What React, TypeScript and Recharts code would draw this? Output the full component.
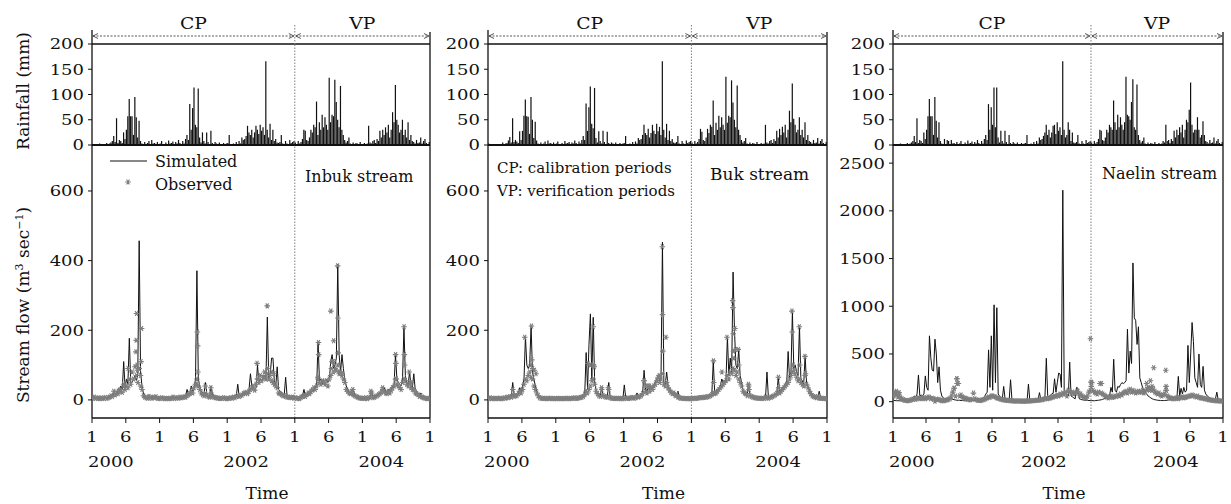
import { Bar, BarChart, ComposedChart, Line, ReferenceLine, Scatter, XAxis, YAxis } from "recharts";

const SERIF = "'DejaVu Serif', serif";
const INK = "#111";
const GREY = "#7e7e7e";

// time axis: months since Jan 2000, four samples per month (60 months)
const monthTicks = [0, 6, 12, 18, 24, 30, 36, 42, 48, 54, 60];
const yearLabels: Record<number, string> = { 0: "2000", 24: "2002", 48: "2004" };
const rainTicks = [0, 50, 100, 150, 200];
const DIVIDE = 36; // calibration | verification

// ---- Inbuk stream ----
const rainA = [
  2,0,1,0, 0,3,0,1, 2,0,4,1, 3,5,8,18, 6,53,4,10, 8,4,25,12, 30,57,91,57, 57,20,95,55, 15,48,8,3, 2,6,1,4, 8,2,10,3, 4,1,6,2,
  3,8,2,1, 5,2,9,3, 4,7,2,6, 3,10,4,2, 8,3,12,20, 10,81,30,73, 114,40,35,112, 15,5,25,8, 3,25,6,2, 28,4,2,6, 3,1,5,2, 2,4,1,3,
  4,20,2,1, 3,1,6,2, 8,3,15,10, 12,18,38,25, 20,30,15,25, 38,30,22,40, 28,35,20,166, 30,15,42,10, 30,8,12,5, 4,6,20,3, 2,8,3,1, 10,4,6,8,
  5,2,8,3, 6,12,30,28, 10,8,15,30, 25,40,35,86, 20,45,30,60, 35,55,40,30, 133,45,60,57, 129,85,50,35, 117,30,20,10, 5,8,15,3, 2,5,1,4, 3,1,6,2,
  2,4,1,3, 38,5,3,8, 10,4,12,8, 28,15,30,20, 35,25,40,15, 30,65,45,119, 50,40,25,30, 50,20,30,15, 45,10,20,8, 6,3,10,4, 5,15,3,8, 12,4,2,6,
];
const simA = [
  8,7,6,6, 6,5,5,6, 6,5,6,5, 8,10,12,25, 15,20,30,25, 40,30,110,35, 60,45,177,50, 50,60,70,55, 70,457,80,40, 20,12,10,8, 15,8,7,10, 8,12,7,6,
  6,5,8,6, 5,6,5,5, 6,10,6,5, 8,6,10,7, 8,10,12,30, 15,20,40,25, 30,60,371,60, 40,25,20,15, 50,20,12,10, 40,15,10,8, 8,7,6,6, 6,8,6,5,
  5,6,8,7, 10,8,12,45, 10,12,15,20, 20,25,18,30, 75,40,35,30, 35,100,50,60, 55,60,70,60, 238,60,70,120, 120,50,40,95, 30,25,20,15, 15,65,12,10, 10,8,9,7,
  8,6,5,6, 10,12,30,12, 15,18,20,25, 30,25,40,35, 167,55,60,45, 58,55,60,50, 55,110,130,90, 100,120,390,130, 80,130,90,60, 40,30,25,20, 20,30,15,12, 10,8,7,6,
  6,5,6,5, 8,10,25,8, 10,12,15,20, 20,25,30,35, 25,20,30,25, 30,40,45,130, 60,50,45,40, 60,210,70,50, 45,80,40,35, 75,30,25,20, 15,20,10,8, 8,6,5,5,
];
const obsA = [
  5,8,4,6, 5,3,6,4, 5,7,4,6, 8,12,10,25, 14,20,18,28, 30,22,45,30, 40,35,60,45, 80,60,95,70, 50,90,40,30, 12,8,6,5, 10,6,5,8, 6,9,5,4,
  4,6,5,3, 4,5,3,4, 5,8,4,6, 6,5,8,6, 7,9,8,12, 15,18,25,20, 35,45,60,40, 30,20,15,12, 18,12,10,8, 20,10,8,6, 6,5,4,5, 4,6,5,3,
  4,5,6,5, 8,6,10,12, 10,12,14,18, 20,22,18,25, 30,35,40,28, 45,60,50,70, 55,65,80,60, 75,60,70,55, 50,45,40,35, 20,18,15,12, 12,10,8,8, 7,6,8,5,
  6,4,5,3, 8,10,12,10, 15,20,18,25, 28,35,30,40, 60,50,45,55, 50,45,55,40, 60,70,110,80, 90,85,100,75, 80,70,60,50, 30,25,20,18, 25,15,12,10, 8,6,5,5,
  5,4,6,3, 6,8,20,6, 8,10,12,15, 18,22,30,25, 20,18,25,20, 28,35,40,60, 45,40,35,30, 50,60,55,45, 40,50,35,30, 30,20,18,15, 10,12,8,6, 5,4,3,5,
];
const obsPeaksA = [
  [4.7,25],[5.7,40],[6.4,90],[7.9,248],[7.85,171],[7.8,138],[8.0,100],[8.05,85],[8.8,205],[8.7,110],[8.6,70],
  [18.7,195],[18.75,155],[18.8,80],[18.6,45],[20.1,40],[21.1,35],
  [29.3,105],[29.4,60],[30.6,65],[31.1,270],[31.2,90],[31.9,80],[32.3,75],
  [40.1,65],[40.2,165],[40.25,130],[42.4,255],[42.5,90],[42.85,110],[42.9,170],[43.6,385],[43.65,235],[43.7,135],[43.9,80],[44.3,75],[46.3,30],
  [49.5,25],[51.6,35],[53.9,130],[53.95,105],[54.0,60],[55.4,210],[55.45,130],[55.5,100],[56.3,80],[56.6,50],
];

// ---- Buk stream ----
const rainB = [
  3,0,1,0, 0,2,0,1, 1,0,5,1, 3,4,9,16, 5,53,6,10, 7,4,27,10, 28,58,90,57, 56,22,95,50, 14,46,9,3, 2,5,1,3, 7,2,9,3, 4,1,5,2,
  3,7,2,1, 4,2,8,3, 4,6,2,5, 3,9,4,2, 7,3,10,18, 10,82,28,75, 116,42,33,113, 14,5,27,8, 3,28,6,2, 26,4,2,5, 3,1,5,2, 2,4,1,3,
  4,18,2,1, 3,1,6,2, 7,3,14,10, 12,20,40,24, 20,32,15,24, 40,28,22,42, 27,36,20,166, 30,15,42,10, 28,8,12,5, 4,6,18,3, 2,8,3,1, 9,4,6,8,
  5,2,8,3, 6,12,32,26, 10,8,15,32, 24,40,36,88, 20,44,30,58, 35,55,40,30, 135,44,58,55, 128,84,50,35, 118,30,20,10, 5,8,14,3, 2,5,1,4, 3,1,6,2,
  2,4,1,3, 40,5,3,8, 10,4,12,8, 28,15,32,20, 36,25,40,15, 30,68,45,122, 52,40,25,30, 55,20,30,15, 45,10,20,8, 6,3,10,4, 5,14,3,8, 12,4,2,6,
];
const simB = [
  6,5,5,4, 5,4,4,5, 5,4,5,6, 6,8,10,12, 10,50,15,12, 15,20,35,25, 40,60,181,100, 90,100,212,80, 60,40,25,15, 8,6,5,5, 5,4,5,4, 5,4,4,5,
  4,5,4,4, 4,5,4,5, 5,4,5,4, 5,6,5,6, 6,8,10,15, 20,136,30,160, 247,60,237,50, 30,20,15,12, 35,15,12,10, 10,50,8,7, 6,5,5,6, 5,4,5,4,
  43,6,5,5, 6,8,7,6, 8,20,10,12, 15,20,85,30, 25,35,30,40, 35,45,50,60, 70,55,65,453, 50,45,80,40, 30,25,20,25, 15,12,25,8, 7,6,6,5, 5,4,5,4,
  5,6,5,6, 6,7,8,7, 8,10,9,10, 12,15,20,112, 20,25,30,35, 40,60,50,55, 60,181,70,120, 80,367,200,100, 90,145,70,50, 30,25,20,15, 45,15,12,10, 8,7,6,6,
  6,5,6,5, 8,80,7,8, 10,12,15,18, 20,65,25,30, 35,40,45,50, 139,60,80,255, 90,100,80,70, 213,60,55,45, 127,50,40,30, 20,15,12,10, 8,7,25,6, 6,5,5,4,
];
const obsB = [
  4,6,3,5, 4,3,5,4, 5,3,4,6, 5,8,6,10, 8,15,10,12, 12,18,25,20, 30,45,60,55, 70,80,65,60, 40,30,20,12, 6,5,4,5, 4,3,5,4, 5,3,4,4,
  3,5,4,3, 4,4,3,5, 4,3,5,4, 5,6,4,5, 6,7,8,10, 15,25,20,30, 40,55,60,45, 25,18,12,10, 30,12,10,8, 8,30,6,5, 5,4,4,5, 4,3,5,3,
  4,6,5,4, 5,7,6,5, 6,10,8,10, 12,18,55,25, 20,40,25,35, 30,40,45,55, 65,50,60,75, 45,40,50,35, 28,22,18,20, 12,15,8,6, 5,5,4,4, 4,3,4,3,
  4,5,4,5, 5,6,7,6, 7,8,8,9, 10,12,15,20, 18,20,25,30, 35,40,45,50, 55,70,60,80, 75,90,85,70, 80,60,50,40, 25,20,18,12, 40,12,10,8, 6,6,5,5,
  5,4,5,4, 8,6,5,7, 8,10,12,15, 18,25,20,25, 30,35,40,45, 50,60,70,80, 85,75,65,55, 60,50,45,40, 70,45,35,25, 18,12,10,8, 6,10,5,5, 5,4,4,3,
];
const obsPeaksB = [
  [4.4,30],[6.5,180],[7.6,100],[7.7,212],[7.75,115],[7.9,90],[8.2,85],[8.5,75],
  [17.7,105],[18.1,100],[18.6,210],[18.7,100],[18.8,95],[20.1,35],[21.3,35],
  [27.6,55],[27.9,40],[28.6,40],[30.3,70],[30.85,440],[30.9,245],[30.95,140],[31.5,180],
  [39.9,112],[39.95,50],[40.0,20],[41.4,80],[42.3,180],[43.3,285],[43.35,265],[43.4,190],[43.45,140],[43.5,120],[43.7,205],[43.8,145],[44.3,145],[44.4,100],[46.1,45],[46.2,30],
  [51.4,65],[51.45,35],[53.8,255],[53.85,195],[54.0,100],[55.1,210],[55.2,100],[56.1,125],[56.2,75],
];

// ---- Naelin stream ----
const rainC = [
  2,0,1,0, 0,3,0,1, 2,0,4,1, 3,5,8,18, 6,53,4,10, 8,4,25,12, 30,57,91,57, 57,20,95,48, 15,45,8,3, 2,12,1,10, 8,2,10,3, 4,1,6,2,
  3,8,2,1, 5,2,9,3, 4,7,2,6, 3,10,4,2, 8,3,12,20, 10,81,30,75, 40,114,35,114, 15,5,28,8, 3,28,6,2, 20,4,2,6, 3,1,5,2, 2,4,1,3,
  4,20,2,1, 3,1,6,2, 8,3,15,10, 12,18,25,40, 20,30,15,25, 38,40,22,45, 28,35,20,166, 30,15,20,45, 30,8,25,5, 4,6,20,3, 2,8,3,1, 10,4,6,8,
  5,2,8,3, 6,12,30,28, 10,8,15,30, 25,40,35,30, 88,45,30,60, 35,55,40,30, 45,135,60,57, 50,85,130,35, 30,120,20,10, 5,8,15,3, 2,5,1,4, 3,1,6,2,
  2,4,1,3, 8,5,40,8, 10,4,12,8, 28,15,30,20, 35,25,40,15, 30,50,45,70, 124,40,25,30, 30,55,30,15, 20,47,20,8, 6,3,10,4, 5,15,3,8, 12,4,2,6,
];
const simC = [
  15,12,10,10, 10,9,8,10, 10,12,10,15, 20,30,40,60, 50,80,280,60, 70,60,80,270, 150,120,690,460, 330,320,655,500, 200,365,120,60, 40,30,25,20, 20,40,30,25, 20,18,15,15,
  15,12,12,10, 10,10,12,10, 10,12,12,14, 15,18,20,25, 30,40,50,80, 100,543,150,690, 120,1015,200,985, 80,60,40,30, 160,30,25,20, 20,230,20,15, 12,12,10,10, 10,9,9,8,
  10,10,185,12, 12,14,15,16, 18,20,95,25, 30,40,50,455, 60,50,70,80, 90,240,100,200, 300,290,150,2216, 120,100,80,60, 415,60,50,40, 30,150,140,30, 25,20,18,15, 15,14,12,12,
  12,10,10,12, 14,15,18,20, 25,30,35,40, 50,60,150,100, 445,120,100,160, 150,180,200,190, 200,220,760,300, 530,400,1454,880, 850,600,785,250, 200,150,120,100, 80,60,50,40, 30,25,20,18,
  15,14,12,12, 12,12,14,15, 18,20,22,25, 30,35,40,265, 60,140,80,150, 100,120,590,200, 500,830,630,250, 200,150,500,180, 150,370,120,80, 60,50,40,30, 25,20,30,100, 20,18,15,15,
];
const obsC = [
  60,90,80,50, 70,40,30,20, 15,12,10,12, 15,20,25,30, 25,30,40,35, 30,35,40,30, 40,50,45,30, 35,30,5,25, 20,25,15,10, 10,12,15,20, 25,30,60,100, 140,60,240,190,
  60,70,50,40, 35,30,25,20, 20,25,90,30, 20,15,15,12, 15,20,25,30, 40,50,45,60, 60,55,50,40, 35,30,25,20, 20,15,15,12, 12,10,10,8, 8,8,7,7, 7,6,6,6,
  6,7,8,8, 10,10,12,12, 14,15,18,20, 20,25,30,35, 30,35,40,45, 50,60,55,70, 60,80,70,90, 80,100,60,120, 110,90,100,80, 90,100,110,70, 80,60,50,40, 40,60,100,120,
  200,120,100,90, 80,100,190,90, 80,70,60,50, 40,50,60,45, 50,60,55,70, 60,80,70,90, 100,110,90,120, 130,100,120,110, 90,100,110,100, 100,120,90,110, 130,150,120,140, 120,130,100,90,
  80,90,70,60, 70,80,120,60, 50,40,35,30, 30,35,40,30, 40,45,50,40, 45,50,55,60, 60,70,65,55, 50,60,45,40, 40,35,30,30, 25,20,20,15, 15,12,10,10, 10,8,8,8,
];
const obsPeaksC = [
  [0.3,100],[0.6,110],[1.1,95],[11.1,140],[11.6,240],[11.65,190],[35.9,660],[36.0,205],[36.05,160],[37.9,190],
  [46.1,190],[46.8,220],[47.1,160],[47.4,355],[49.6,330],[49.65,160],[49.7,120],
];

const series = (vals: number[]) => vals.map((v, i) => ({ t: (i + 0.5) / 4, v }));
const points = (pairs: number[][]) => pairs.map(([t, v]) => ({ t, v }));

const YW = 60;
const RM = 12; // right margin so the last tick label is not clipped
const RAIN_TOP = 44;
const RAIN_H = 101;
const FLOW_H = 273;
const X_H = 62;

type Panel = {
  name: string;
  left: number;
  right: number;
  rain: number[];
  sim: number[];
  obs: number[];
  peaks: number[][];
  flowDomain: [number, number];
  flowTicks: number[];
};

const panels: Panel[] = [
  { name: "Inbuk stream", left: 92, right: 430, rain: rainA, sim: simA, obs: obsA, peaks: obsPeaksA, flowDomain: [-52, 732], flowTicks: [0, 200, 400, 600] },
  { name: "Buk stream", left: 488, right: 827, rain: rainB, sim: simB, obs: obsB, peaks: obsPeaksB, flowDomain: [-52, 732], flowTicks: [0, 200, 400, 600] },
  { name: "Naelin stream", left: 893, right: 1223, rain: rainC, sim: simC, obs: obsC, peaks: obsPeaksC, flowDomain: [-171, 2690], flowTicks: [0, 500, 1000, 1500, 2000, 2500] },
];

function YTick({ x, y, payload }: any) {
  return (
    <text transform={`translate(${x},${y}) scale(1.2,1)`} textAnchor="end" dy="0.36em" fontFamily={SERIF} fontSize={15} fill={INK}>
      {payload.value}
    </text>
  );
}

function XTick({ x, y, payload }: any) {
  const v = payload.value;
  const yr = yearLabels[v];
  return (
    <g transform={`translate(${x},${y})`}>
      <text transform="scale(1.2,1)" textAnchor="middle" y={16} fontFamily={SERIF} fontSize={15} fill={INK}>
        {v % 12 === 0 ? "1" : "6"}
      </text>
      {yr && (
        <text transform="scale(1.2,1)" x={-4 / 1.2} y={41} textAnchor="start" fontFamily={SERIF} fontSize={15} fill={INK}>
          {yr}
        </text>
      )}
    </g>
  );
}

function Star({ cx, cy }: any) {
  if (cx == null || cy == null) return null;
  return (
    <path
      d={`M${cx - 2.8},${cy} L${cx + 2.8},${cy} M${cx - 1.4},${cy - 2.5} L${cx + 1.4},${cy + 2.5} M${cx - 1.4},${cy + 2.5} L${cx + 1.4},${cy - 2.5}`}
      stroke={GREY}
      strokeWidth={1.1}
      fill="none"
    />
  );
}

function PanelCharts({ p }: { p: Panel }) {
  const w = p.right - p.left;
  return (
    <>
      <div style={{ position: "absolute", left: p.left - YW, top: RAIN_TOP - 10 }}>
        <BarChart width={w + YW + RM} height={RAIN_H + 20} data={series(p.rain)} margin={{ top: 10, right: RM, bottom: 10, left: 0 }}>
          <XAxis type="number" dataKey="t" domain={[0, 60]} hide allowDataOverflow />
          <YAxis
            type="number"
            domain={[0, 200]}
            ticks={rainTicks}
            interval={0}
            width={YW}
            tick={<YTick />}
            tickSize={4}
            tickMargin={4}
            tickLine={{ stroke: INK }}
            axisLine={{ stroke: INK, strokeWidth: 1.3 }}
            allowDataOverflow
          />
          <ReferenceLine y={200} stroke={INK} strokeWidth={1.3} />
          <ReferenceLine x={60} stroke={INK} strokeWidth={1.3} />
          <ReferenceLine x={DIVIDE} stroke={GREY} strokeDasharray="1.5 1.5" />
          <Bar dataKey="v" fill={INK} barSize={1.2} isAnimationActive={false} />
          <ReferenceLine y={0} stroke={INK} strokeWidth={1.8} />
        </BarChart>
      </div>
      <div style={{ position: "absolute", left: p.left - YW, top: RAIN_TOP + RAIN_H - 10 }}>
        <ComposedChart width={w + YW + RM} height={10 + FLOW_H + X_H} margin={{ top: 10, right: RM, bottom: 0, left: 0 }}>
          <XAxis
            type="number"
            dataKey="t"
            domain={[0, 60]}
            ticks={monthTicks}
            interval={0}
            height={X_H}
            tick={<XTick />}
            tickSize={5}
            tickMargin={3}
            tickLine={{ stroke: INK }}
            axisLine={{ stroke: INK, strokeWidth: 1.3 }}
            allowDataOverflow
          />
          <YAxis
            type="number"
            domain={p.flowDomain}
            ticks={p.flowTicks}
            interval={0}
            width={YW}
            tick={<YTick />}
            tickSize={4}
            tickMargin={4}
            tickLine={{ stroke: INK }}
            axisLine={{ stroke: INK, strokeWidth: 1.3 }}
            allowDataOverflow
          />
          <ReferenceLine x={60} stroke={INK} strokeWidth={1.3} />
          <ReferenceLine x={DIVIDE} stroke={GREY} strokeDasharray="1.5 1.5" />
          <Line data={series(p.sim)} dataKey="v" stroke={INK} strokeWidth={1} dot={false} isAnimationActive={false} />
          <Scatter data={series(p.obs).concat(points(p.peaks))} dataKey="v" shape={<Star />} isAnimationActive={false} />
        </ComposedChart>
      </div>
    </>
  );
}

function Arrow({ x1, x2, y }: { x1: number; x2: number; y: number }) {
  return (
    <g stroke="#444" strokeWidth={0.9} fill="none">
      <line x1={x1 + 1} x2={x2 - 1} y1={y} y2={y} strokeDasharray="2 1.5" />
      <path d={`M${x1 + 6},${y - 2.5} L${x1 + 1},${y} L${x1 + 6},${y + 2.5}`} />
      <path d={`M${x2 - 6},${y - 2.5} L${x2 - 1},${y} L${x2 - 6},${y + 2.5}`} />
    </g>
  );
}

function T({ x, y, size = 16, sx = 1, anchor = "start", children }: any) {
  return (
    <text transform={`translate(${x},${y}) scale(${sx},1)`} textAnchor={anchor} fontFamily={SERIF} fontSize={size} fill={INK}>
      {children}
    </text>
  );
}

function Overlay() {
  return (
    <svg width={1231} height={504} style={{ position: "absolute", left: 0, top: 0, pointerEvents: "none" }}>
      {panels.map((p) => {
        const xd = p.left + (DIVIDE / 60) * (p.right - p.left);
        return (
          <g key={p.name}>
            <line x1={p.left} x2={p.left} y1={30} y2={44} stroke={INK} strokeWidth={1.3} />
            <line x1={p.right} x2={p.right} y1={32} y2={44} stroke={INK} strokeWidth={1.3} />
            <line x1={xd} x2={xd} y1={25} y2={44} stroke={GREY} strokeDasharray="1.5 1.5" />
            <Arrow x1={p.left} x2={xd} y={36} />
            <Arrow x1={xd} x2={p.right} y={36} />
            <T x={(p.left + xd) / 2} y={29} size={17} sx={1.1} anchor="middle">CP</T>
            <T x={(xd + p.right) / 2} y={29} size={17} sx={1.1} anchor="middle">VP</T>
            <T x={(p.left + p.right) / 2 + 6} y={499} size={17} anchor="middle">Time</T>
          </g>
        );
      })}
      <text transform="translate(29,91) rotate(-90)" textAnchor="middle" fontFamily={SERIF} fontSize={17} fill={INK}>
        Rainfall (mm)
      </text>
      <text transform="translate(29,305) rotate(-90)" textAnchor="middle" fontFamily={SERIF} fontSize={17} fill={INK}>
        Stream flow (m<tspan dy={-6} fontSize={11}>3</tspan>
        <tspan dy={6}> sec</tspan>
        <tspan dy={-6} fontSize={11}>−1</tspan>
        <tspan dy={6}>)</tspan>
      </text>
      <line x1={110} x2={147} y1={161} y2={161} stroke={INK} strokeWidth={1} />
      <T x={155} y={167}>Simulated</T>
      <Star cx={128} cy={182} />
      <T x={155} y={190}>Observed</T>
      <T x={305} y={182}>{panels[0].name}</T>
      <T x={497} y={173} size={15}>CP: calibration periods</T>
      <T x={497} y={196} size={15}>VP: verification periods</T>
      <T x={710} y={180} size={17}>{panels[1].name}</T>
      <T x={1102} y={179}>{panels[2].name}</T>
    </svg>
  );
}

export default function App() {
  return (
    <div style={{ position: "absolute", left: 0, top: 0, width: 1231, height: 504, overflow: "hidden", background: "#fff" }}>
      {panels.map((p) => (
        <PanelCharts key={p.name} p={p} />
      ))}
      <Overlay />
    </div>
  );
}
